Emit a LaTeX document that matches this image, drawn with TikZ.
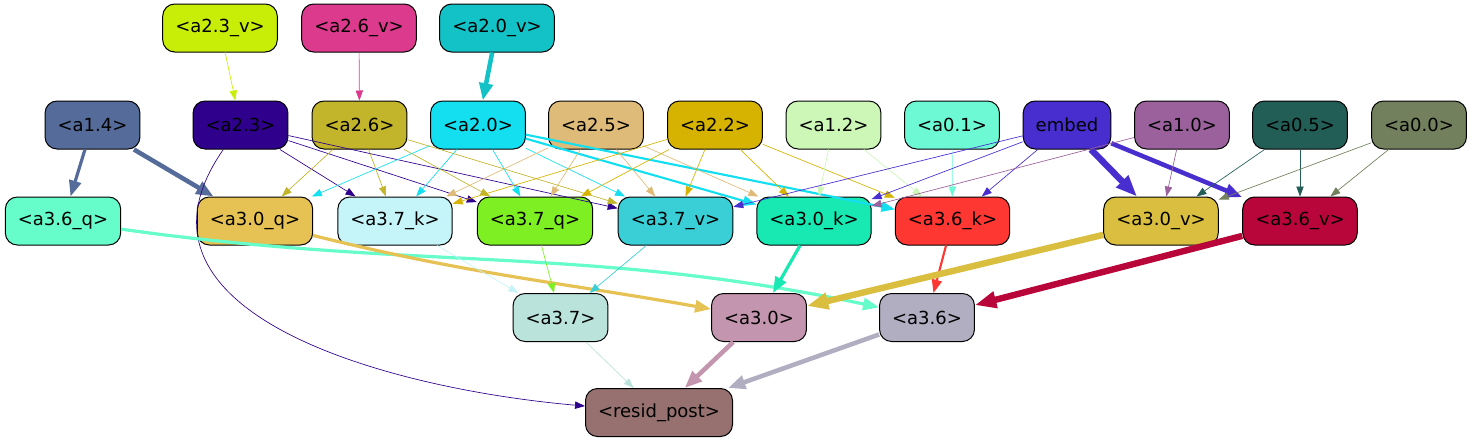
\documentclass[tikz,border=0pt]{standalone}
\usepackage{fontspec}
\setmainfont{DejaVu Sans}
\usetikzlibrary{arrows.meta}
\definecolor{ca23v}{HTML}{C8EE08}
\definecolor{ca26v}{HTML}{DC3A8C}
\definecolor{ca20v}{HTML}{13C2C6}
\definecolor{ca14}{HTML}{556B9A}
\definecolor{ca23}{HTML}{2E008C}
\definecolor{ca26}{HTML}{C2B42B}
\definecolor{ca20}{HTML}{14DFF0}
\definecolor{ca25}{HTML}{DFBB79}
\definecolor{ca22}{HTML}{D6B300}
\definecolor{ca12}{HTML}{CDF7B6}
\definecolor{ca01}{HTML}{6CF9D4}
\definecolor{cemb}{HTML}{482DCF}
\definecolor{ca10}{HTML}{9B619C}
\definecolor{ca05}{HTML}{225E56}
\definecolor{ca00}{HTML}{72805D}
\definecolor{ca36q}{HTML}{66FDCB}
\definecolor{ca30q}{HTML}{E6C154}
\definecolor{ca37k}{HTML}{C5F5F8}
\definecolor{ca37q}{HTML}{7DEF22}
\definecolor{ca37v}{HTML}{3ACFD6}
\definecolor{ca30k}{HTML}{18E8B2}
\definecolor{ca36k}{HTML}{FE3733}
\definecolor{ca30v}{HTML}{D9BE3F}
\definecolor{ca36v}{HTML}{B9063A}
\definecolor{ca37}{HTML}{BAE3DB}
\definecolor{ca30}{HTML}{C495AE}
\definecolor{ca36}{HTML}{B1AEC2}
\definecolor{cres}{HTML}{96716F}

\begin{document}
\begin{tikzpicture}[x=0.75pt,y=0.75pt,
  box/.style={draw=black, line width=0.75pt, rounded corners=9pt, minimum height=36pt,
    inner xsep=9.4pt, inner ysep=0pt, font=\fontsize{13.5}{16}\selectfont},
  lnk/.style={line width=0.5pt, -{Triangle[length=7.5pt,width=5.5pt]}},
  lnkm/.style={line width=1.6pt, -{Triangle[length=10pt,width=7.5pt]}},
  lnkn/.style={line width=2.4pt, -{Triangle[length=12pt,width=9pt]}},
  lnkt/.style={line width=3.4pt, -{Triangle[length=13pt,width=10pt]}},
  lnkx/.style={line width=4.8pt, -{Triangle[length=16pt,width=12pt]}}]
\useasboundingbox (0,0) rectangle (1472,-443);

% inputs
\node[box, fill=ca23v] (a23v) at (220,-28) {<a2.3\_v>};
\node[box, fill=ca26v] (a26v) at (359,-28) {<a2.6\_v>};
\node[box, fill=ca20v] (a20v) at (497,-28) {<a2.0\_v>};

\node[box, fill=ca14] (a14) at (92.5,-125) {<a1.4>};
\node[box, fill=ca23] (a23) at (240.5,-125) {<a2.3>};
\node[box, fill=ca26] (a26) at (359.5,-125) {<a2.6>};
\node[box, fill=ca20] (a20) at (478,-125) {<a2.0>};
\node[box, fill=ca25] (a25) at (596,-125) {<a2.5>};
\node[box, fill=ca22] (a22) at (715,-125) {<a2.2>};
\node[box, fill=ca12] (a12) at (833.5,-125) {<a1.2>};
\node[box, fill=ca01] (a01) at (952,-125) {<a0.1>};
\node[box, fill=cemb] (emb) at (1067,-125) {embed};
\node[box, fill=ca10] (a10) at (1182,-125) {<a1.0>};
\node[box, fill=ca05] (a05) at (1300,-125) {<a0.5>};
\node[box, fill=ca00] (a00) at (1419,-125) {<a0.0>};

% heads
\node[box, fill=ca36q] (a36q) at (63,-221) {<a3.6\_q>};
\node[box, fill=ca30q] (a30q) at (255,-221) {<a3.0\_q>};
\node[box, fill=ca37k] (a37k) at (395,-221) {<a3.7\_k>};
\node[box, fill=ca37q] (a37q) at (535,-221) {<a3.7\_q>};
\node[box, fill=ca37v] (a37v) at (675.5,-221) {<a3.7\_v>};
\node[box, fill=ca30k] (a30k) at (814,-221) {<a3.0\_k>};
\node[box, fill=ca36k] (a36k) at (952.5,-221) {<a3.6\_k>};
\node[box, fill=ca30v] (a30v) at (1161,-221) {<a3.0\_v>};
\node[box, fill=ca36v] (a36v) at (1300,-221) {<a3.6\_v>};

\node[box, fill=ca37] (a37) at (560.5,-317.5) {<a3.7>};
\node[box, fill=ca30] (a30) at (759,-317.5) {<a3.0>};
\node[box, fill=ca36] (a36) at (927,-317.5) {<a3.6>};
\node[box, fill=cres] (res) at (659,-412.5) {<resid\_post>};

% edges
\draw[lnk, draw=ca23v] (a23v) -- (a23);
\draw[lnk, draw=ca26v] (a26v) -- (a26);
\draw[lnkt, draw=ca20v] (a20v) -- (a20);

\draw[lnkn, draw=ca14] (a14) -- (a36q);
\draw[lnkt, draw=ca14] (a14) -- (a30q);

\draw[lnk, draw=ca23] (a23) to[out=-125, in=175, looseness=1.15] (res);
\foreach \t in {a37k,a37q,a37v} \draw[lnk, draw=ca23] (a23) -- (\t);
\foreach \t in {a30q,a37k,a37q,a37v} \draw[lnk, draw=ca26] (a26) -- (\t);
\foreach \t in {a30q,a37k,a37q,a37v} \draw[lnk, draw=ca20] (a20) -- (\t);
\draw[lnkm, draw=ca20] (a20) -- (a30k);
\draw[lnkm, draw=ca20] (a20) -- (a36k);
\foreach \t in {a37k,a37q,a37v,a30k} \draw[lnk, draw=ca25] (a25) -- (\t);
\foreach \t in {a37k,a37q,a37v,a30k,a36k} \draw[lnk, draw=ca22] (a22) -- (\t);
\foreach \t in {a30k,a36k} \draw[lnk, draw=ca12] (a12) -- (\t);
\draw[lnk, draw=ca01] (a01) -- (a36k);
\foreach \t in {a37v,a30k,a36k} \draw[lnk, draw=cemb] (emb) -- (\t);
\draw[lnkx, draw=cemb] (emb) -- (a30v);
\draw[lnkt, draw=cemb] (emb) -- (a36v);
\foreach \t in {a30k,a30v} \draw[lnk, draw=ca10] (a10) -- (\t);
\foreach \t in {a30v,a36v} \draw[lnk, draw=ca05] (a05) -- (\t);
\foreach \t in {a30v,a36v} \draw[lnk, draw=ca00] (a00) -- (\t);

\draw[lnkn, draw=ca36q] (a36q) to[out=-8, in=168] (a36);
\draw[lnkn, draw=ca30q] (a30q) to[out=-14, in=170] (a30);
\foreach \s/\c in {a37k/ca37k,a37q/ca37q,a37v/ca37v} \draw[lnk, draw=\c] (\s) -- (a37);
\draw[lnkn, draw=ca30k] (a30k) -- (a30);
\draw[lnkm, draw=ca36k] (a36k) -- (a36);
\draw[lnkx, draw=ca30v] (a30v) -- (a30);
\draw[lnkx, draw=ca36v] (a36v) -- (a36);

\draw[lnk, draw=ca37] (a37) -- (res);
\draw[lnkt, draw=ca30] (a30) -- (res);
\draw[lnkt, draw=ca36] (a36) -- (res);
\end{tikzpicture}
\end{document}
